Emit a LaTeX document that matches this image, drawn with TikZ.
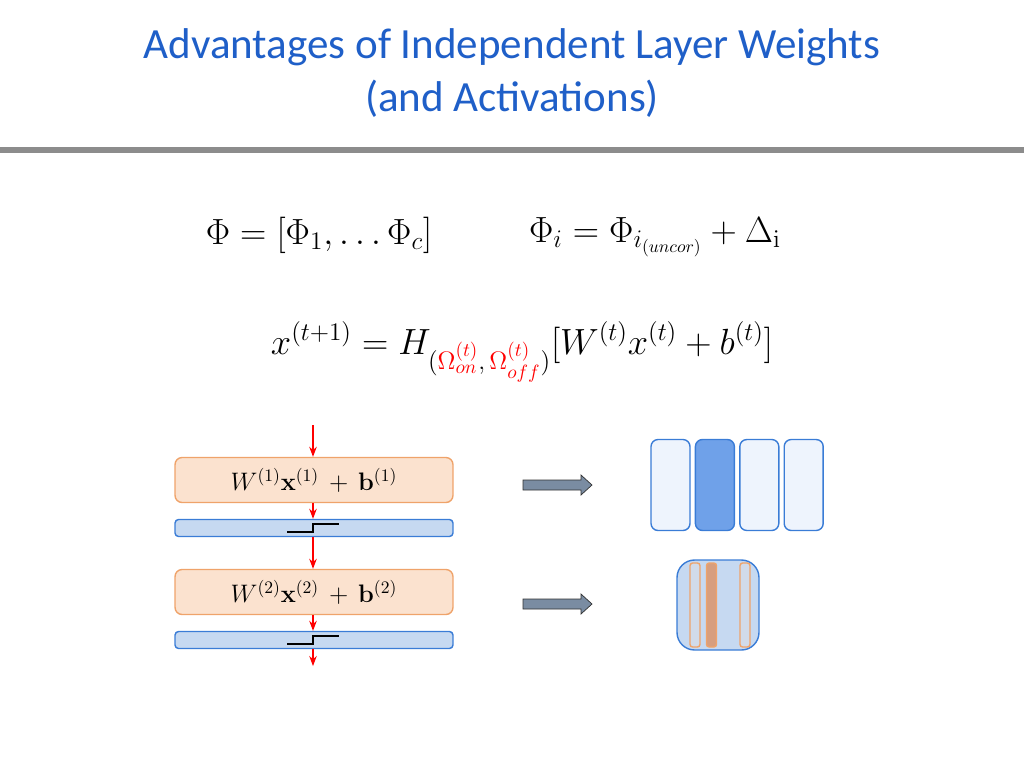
\documentclass[tikz,border=0pt]{standalone}
\usepackage{amsmath}
\usepackage[no-math]{fontspec}
\setmainfont{Carlito}
\usetikzlibrary{arrows.meta,positioning}
\definecolor{titleblue}{HTML}{1F5FC8}
\definecolor{rulegray}{HTML}{8C8C8C}
\definecolor{boxfill}{HTML}{FBE2CF}
\definecolor{boxline}{HTML}{EFA36A}
\definecolor{barfill}{HTML}{C6D9F1}
\definecolor{barline}{HTML}{3A7CD6}
\definecolor{paleblue}{HTML}{EEF4FD}
\definecolor{midblue}{HTML}{6FA1E9}
\definecolor{stripfill}{HTML}{D79E7E}
\definecolor{arrowgray}{HTML}{7A8CA2}

\begin{document}
\begin{tikzpicture}
      [x=0.02cm, y=-0.02cm, >=Stealth,
      layerbox/.style={draw=boxline, fill=boxfill, rounded corners=4pt, thick,
        minimum width=5.56cm, minimum height=0.9cm, inner sep=0pt},
      actbar/.style={draw=barline, fill=barfill, rounded corners=2pt, thick,
        minimum width=5.56cm, minimum height=0.34cm, inner sep=0pt},
      flow/.style={->, red, semithick},
      bigarrow/.style={draw=black!80, fill=arrowgray},
      unit/.style={draw=barline, thick, rounded corners=4pt, inner sep=0pt,
        minimum width=0.78cm, minimum height=1.82cm},
      strip/.style={draw=boxline, thick, rounded corners=1.5pt, inner sep=0pt,
        minimum width=0.2cm, minimum height=1.68cm},
      eq/.style={font=\fontsize{20}{24}\selectfont}]

      \useasboundingbox (0,0) rectangle (1024,768);

      % title
      \node [titleblue, font=\fontsize{24.5}{30}\selectfont, align=center] (title) at (512,73)
        {Advantages of Independent Layer Weights\\(and Activations)};
      \fill [rulegray] (0,147) rectangle (1024,153);

      % equations
      \node [eq] (eqa) at (319,235) {$\Phi=[\Phi_1,\ldots\Phi_c]$};
      \node [eq] (eqb) at (655,237) {$\Phi_i=\Phi_{i_{(uncor)}}+\Delta_{\mathrm{i}}$};
      \node [eq, font=\fontsize{21.5}{24}\selectfont] (eqc) at (522,352)
        {$x^{(t+1)}=H_{(\textcolor{red}{\Omega^{(t)}_{on}},\,\textcolor{red}{\Omega^{(t)}_{off}})}[W^{(t)}x^{(t)}+b^{(t)}]$};

      % layers
      \coordinate (in) at (313,425);
      \node [layerbox] (L1) at (314,480) {};
      \node [font=\fontsize{14.5}{17}\selectfont] at (L1) {$W^{(1)}\mathbf{x}^{(1)}\,+\,\mathbf{b}^{(1)}$};
      \node [actbar] (A1) at (314,528) {};
      \node [layerbox] (L2) at (314,592) {};
      \node [font=\fontsize{14.5}{17}\selectfont] at (L2) {$W^{(2)}\mathbf{x}^{(2)}\,+\,\mathbf{b}^{(2)}$};
      \node [actbar] (A2) at (314,640) {};
      \coordinate (out) at (313,666);

      \draw [flow] (in) -- (in |- L1.north);
      \draw [flow] (in |- L1.south) -- (in |- A1.north);
      \draw [flow] (in |- A1.south) -- (in |- L2.north);
      \draw [flow] (in |- L2.south) -- (in |- A2.north);
      \draw [flow] (in |- A2.south) -- (out);

      % step glyphs
      \foreach \y in {532,644}
        \draw [thick] (287,\y) -- (313,\y) -- (313,\y-8) -- (339,\y-8);

      % arrows to the right
      \foreach \y in {485,604}
        \draw [bigarrow] (523,\y-5) -- (581,\y-5) -- (581,\y-10) -- (592,\y)
          -- (581,\y+10) -- (581,\y+5) -- (523,\y+5) -- cycle;

      % units
      \node [unit, fill=paleblue] (U1) at (670.5,485) {};
      \node [unit, fill=midblue, right=0.08cm of U1] (U2) {};
      \node [unit, fill=paleblue, right=0.08cm of U2] (U3) {};
      \node [unit, fill=paleblue, right=0.08cm of U3] (U4) {};

      \node [draw=barline, fill=barfill, thick, rounded corners=10pt, inner sep=0pt,
        minimum width=1.64cm, minimum height=1.8cm] (C) at (718,605) {};
      \node [strip, fill=barfill!80!boxfill] (S1) at (695,605) {};
      \node [strip, fill=stripfill] (S2) at (711.5,605) {};
      \node [strip, fill=barfill!80!boxfill] (S3) at (745,605) {};
    \end{tikzpicture}
\end{document}
